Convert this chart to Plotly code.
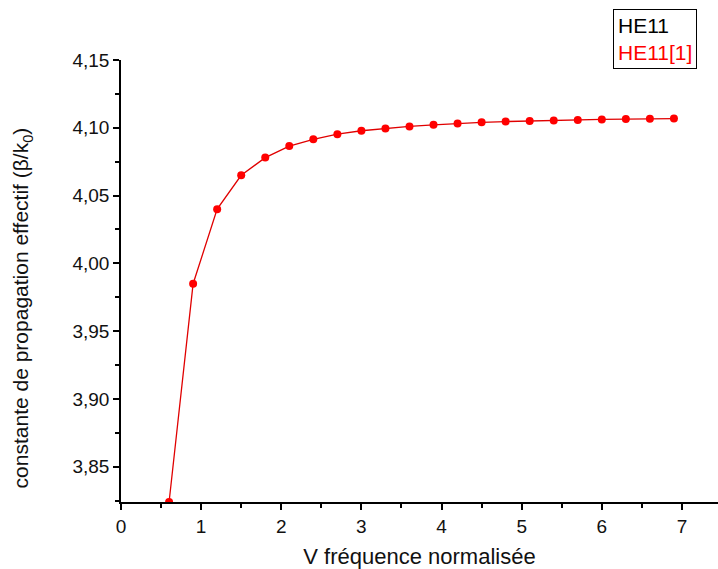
import plotly.graph_objects as go

v_freq = [0.6, 0.9, 1.2, 1.5, 1.8, 2.1, 2.4, 2.7, 3.0, 3.3, 3.6, 3.9, 4.2, 4.5, 4.8,
          5.1, 5.4, 5.7, 6.0, 6.3, 6.6, 6.9]
neff = [3.824, 3.985, 4.040, 4.065, 4.078, 4.0865, 4.0915, 4.0953, 4.0978, 4.0995,
        4.1010, 4.1022, 4.1032, 4.1040, 4.1046, 4.1051, 4.1054, 4.1058, 4.1062,
        4.1064, 4.1066, 4.1068]
x_ticks = [0, 1, 2, 3, 4, 5, 6, 7]
y_ticks = [3.85, 3.90, 3.95, 4.00, 4.05, 4.10, 4.15]

font = "Liberation Sans, Arial, sans-serif"

fig = go.Figure()
fig.add_trace(go.Scatter(
    x=v_freq, y=neff, mode="lines+markers", name="HE11[1]",
    line=dict(color="#e00000", width=1.3),
    marker=dict(color="#ff0000", size=8, symbol="circle"),
    showlegend=False,
))

fig.add_annotation(
    xref="paper", yref="paper", x=0.965, y=1.115, xanchor="right", yanchor="top",
    text="HE11<br><span style='color:#ff0000'>HE11[1]</span>",
    showarrow=False, align="left", bordercolor="#000000", borderwidth=1,
    borderpad=4, bgcolor="white", font=dict(family=font, size=21, color="black"),
)

# y-axis title placed as rotated annotation (offset downward as in reference)
fig.add_annotation(
    xref="paper", yref="paper", x=-0.166, y=0.44, xanchor="center", yanchor="middle",
    text="constante de propagation effectif (β/k<sub>0</sub>)", textangle=-90,
    showarrow=False, font=dict(family=font, size=21, color="#111"),
)

axis_common = dict(
    showgrid=False, zeroline=False, showline=True, linecolor="black", linewidth=1.5,
    ticks="outside", ticklen=6, tickwidth=1.5, tickcolor="black",
    tickfont=dict(family=font, size=19, color="#111"),
)

fig.update_xaxes(
    range=[0, 7.45], tickvals=x_ticks, ticktext=[str(t) for t in x_ticks],
    minor=dict(ticks="outside", ticklen=4, tickwidth=1.5, tickcolor="black", dtick=0.5, tick0=0),
    title=dict(text="V fréquence normalisée", font=dict(family=font, size=22, color="#111"),
               standoff=15),
    **axis_common,
)
fig.update_yaxes(
    range=[3.824, 4.15], tickvals=y_ticks,
    ticktext=[f"{t:.2f}".replace(".", ",") for t in y_ticks],
    minor=dict(ticks="outside", ticklen=4, tickwidth=1.5, tickcolor="black", dtick=0.025, tick0=3.825),
    **axis_common,
)

fig.update_layout(
    width=718, height=569,
    margin=dict(l=121, r=0, t=60, b=67),
    plot_bgcolor="white", paper_bgcolor="white",
    font=dict(family=font),
)

fig.write_html("out.html")
